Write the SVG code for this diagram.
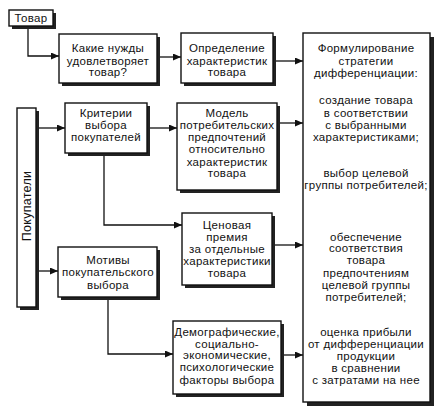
<svg xmlns="http://www.w3.org/2000/svg" width="442" height="416" viewBox="0 0 442 416">
<style>
.box{fill:#fff;stroke:#111;stroke-width:1.4}
.sh{fill:#222}
text{font-family:"Liberation Sans",Arial,sans-serif;font-size:11.5px;letter-spacing:0.3px;fill:#111;text-anchor:middle}
.c{fill:none;stroke:#111;stroke-width:1.3}
</style>
<defs>
<marker id="ah" markerWidth="8" markerHeight="7" refX="8" refY="3.5" orient="auto" markerUnits="userSpaceOnUse">
<path d="M0,0 L8,3.5 L0,7 Z" fill="#111"/>
</marker>
</defs>
<rect width="442" height="416" fill="#fff"/>
<g id="connectors">
<path class="c" d="M28,28 V56 H59" marker-end="url(#ah)"/>
<path class="c" d="M160,57 H181" marker-end="url(#ah)"/>
<path class="c" d="M276,61 H303" marker-end="url(#ah)"/>
<path class="c" d="M39,128 H65" marker-end="url(#ah)"/>
<path class="c" d="M150,128 H177" marker-end="url(#ah)"/>
<path class="c" d="M280,123 H303" marker-end="url(#ah)"/>
<path class="c" d="M104,156 V225 H182" marker-end="url(#ah)"/>
<path class="c" d="M275,245 H303" marker-end="url(#ah)"/>
<path class="c" d="M39,271 H58" marker-end="url(#ah)"/>
<path class="c" d="M108,300 V354 H173" marker-end="url(#ah)"/>
<path class="c" d="M284,355 H303" marker-end="url(#ah)"/>
</g>
<g id="tovar">
<rect class="sh" x="12" y="13" width="44" height="16"/>
<rect class="box" x="9" y="10" width="44" height="16"/>
<text x="31" y="22">Товар</text>
</g>
<g id="needs">
<rect class="sh" x="62" y="37" width="98" height="49"/>
<rect class="box" x="59" y="34" width="98" height="49"/>
<text x="108" y="52">Какие нужды</text>
<text x="108" y="65">удовлетворяет</text>
<text x="108" y="76">товар?</text>
</g>
<g id="define">
<rect class="sh" x="184" y="36" width="92" height="50"/>
<rect class="box" x="181" y="33" width="92" height="50"/>
<text x="227" y="52">Определение</text>
<text x="227" y="65">характеристик</text>
<text x="227" y="76">товара</text>
</g>
<g id="strategy">
<rect class="sh" x="307" y="37" width="127" height="369"/>
<rect class="box" x="303" y="33" width="127" height="369"/>
<text x="366" y="52">Формулирование</text>
<text x="366" y="65">стратегии</text>
<text x="366" y="77">дифференциации:</text>
<text x="366" y="104">создание товара</text>
<text x="366" y="117">в соответствии</text>
<text x="366" y="129">с выбранными</text>
<text x="366" y="141">характеристиками;</text>
<text x="366" y="177">выбор целевой</text>
<text x="366" y="189">группы потребителей;</text>
<text x="366" y="241">обеспечение</text>
<text x="366" y="252">соответствия</text>
<text x="366" y="264">товара</text>
<text x="366" y="277">предпочтениям</text>
<text x="366" y="289">целевой группы</text>
<text x="366" y="301">потребителей;</text>
<text x="366" y="336">оценка прибыли</text>
<text x="366" y="348">от дифференциации</text>
<text x="366" y="360">продукции</text>
<text x="366" y="372">в сравнении</text>
<text x="366" y="384">с затратами на нее</text>
</g>
<g id="buyers">
<rect class="sh" x="20" y="111" width="19" height="199"/>
<rect class="box" x="17" y="108" width="19" height="199"/>
<text transform="translate(31,206) rotate(-90)" style="font-size:12.5px">Покупатели</text>
</g>
<g id="criteria">
<rect class="sh" x="68" y="106" width="82" height="50"/>
<rect class="box" x="65" y="103" width="82" height="50"/>
<text x="106" y="117">Критерии</text>
<text x="106" y="129">выбора</text>
<text x="106" y="141">покупателей</text>
</g>
<g id="model">
<rect class="sh" x="180" y="106" width="100" height="87"/>
<rect class="box" x="177" y="103" width="100" height="87"/>
<text x="227" y="117">Модель</text>
<text x="227" y="129">потребительских</text>
<text x="227" y="141">предпочтений</text>
<text x="227" y="153">относительно</text>
<text x="227" y="166">характеристик</text>
<text x="227" y="177">товара</text>
</g>
<g id="price">
<rect class="sh" x="185" y="216" width="90" height="72"/>
<rect class="box" x="182" y="213" width="90" height="72"/>
<text x="227" y="229">Ценовая</text>
<text x="227" y="241">премия</text>
<text x="227" y="253">за отдельные</text>
<text x="227" y="265">характеристики</text>
<text x="227" y="277">товара</text>
</g>
<g id="motives">
<rect class="sh" x="61" y="250" width="99" height="50"/>
<rect class="box" x="58" y="247" width="99" height="50"/>
<text x="108" y="264">Мотивы</text>
<text x="108" y="276">покупательского</text>
<text x="108" y="289">выбора</text>
</g>
<g id="factors">
<rect class="sh" x="176" y="324" width="108" height="73"/>
<rect class="box" x="173" y="321" width="108" height="73"/>
<text x="227" y="336">Демографические,</text>
<text x="227" y="348">социально-</text>
<text x="227" y="359">экономические,</text>
<text x="227" y="371">психологические</text>
<text x="227" y="384">факторы выбора</text>
</g>
</svg>
